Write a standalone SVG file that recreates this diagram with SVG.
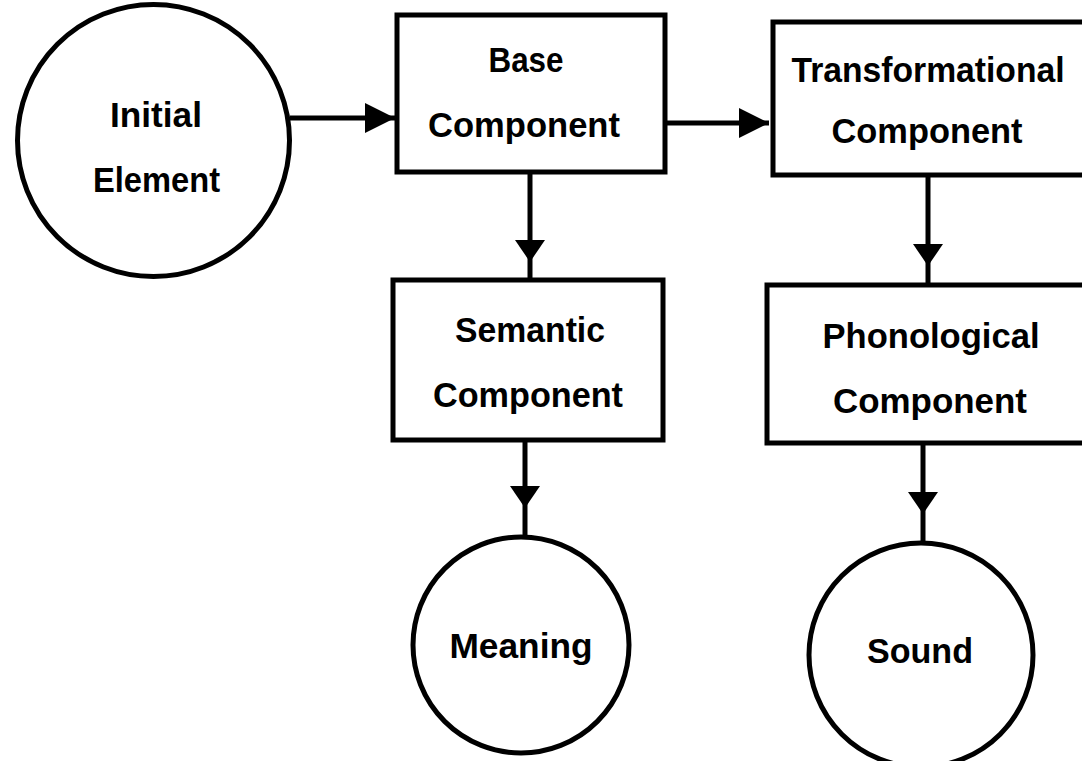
<svg xmlns="http://www.w3.org/2000/svg" width="1082" height="761" viewBox="0 0 1082 761">
<style>
  .shape { fill: #fff; stroke: #000; stroke-width: 5; }
  .conn { fill: none; stroke: #000; stroke-width: 5; }
  .lbl { font-family: "Liberation Sans", Arial, sans-serif; font-weight: bold; font-size: 35px; fill: #000; text-anchor: middle; }
</style>
<defs>
  <marker id="arrow" viewBox="0 0 30 30" refX="30" refY="15" markerWidth="30" markerHeight="30" markerUnits="userSpaceOnUse" orient="auto">
    <path d="M0,0 L30,15 L0,30 Z" fill="#000"/>
  </marker>
  <marker id="arrowv" viewBox="0 0 22 30" refX="22" refY="15" markerWidth="22" markerHeight="30" markerUnits="userSpaceOnUse" orient="auto">
    <path d="M0,0 L22,15 L0,30 Z" fill="#000"/>
  </marker>
</defs>
<rect width="1082" height="761" fill="#fff"/>
<g id="connectors">
  <path class="conn" d="M290,118 L395,118" marker-end="url(#arrow)"/>
  <path class="conn" d="M665,123 L769,123" marker-end="url(#arrow)"/>
  <path class="conn" d="M530,172 L530,262 L530,278" marker-mid="url(#arrowv)"/>
  <path class="conn" d="M928,175 L928,266 L928,285" marker-mid="url(#arrowv)"/>
  <path class="conn" d="M525,440 L525,508 L525,537" marker-mid="url(#arrowv)"/>
  <path class="conn" d="M923,443 L923,514 L923,543" marker-mid="url(#arrowv)"/>
</g>
<g id="initial-element">
  <circle class="shape" cx="153.5" cy="140.5" r="136"/>
  <text class="lbl" x="156" y="127" textLength="92" lengthAdjust="spacingAndGlyphs">Initial</text>
  <text class="lbl" x="156.5" y="192" textLength="127" lengthAdjust="spacingAndGlyphs">Element</text>
</g>
<g id="base-component">
  <rect class="shape" x="397" y="15" width="268" height="157"/>
  <text class="lbl" x="526" y="72" textLength="75" lengthAdjust="spacingAndGlyphs">Base</text>
  <text class="lbl" x="524" y="137" textLength="192" lengthAdjust="spacingAndGlyphs">Component</text>
</g>
<g id="transformational-component">
  <rect class="shape" x="773" y="22" width="330" height="153"/>
  <text class="lbl" x="928" y="82" textLength="273" lengthAdjust="spacingAndGlyphs">Transformational</text>
  <text class="lbl" x="927" y="143" textLength="191" lengthAdjust="spacingAndGlyphs">Component</text>
</g>
<g id="semantic-component">
  <rect class="shape" x="393" y="280" width="270" height="160"/>
  <text class="lbl" x="530" y="342" textLength="150" lengthAdjust="spacingAndGlyphs">Semantic</text>
  <text class="lbl" x="528" y="407" textLength="190" lengthAdjust="spacingAndGlyphs">Component</text>
</g>
<g id="phonological-component">
  <rect class="shape" x="767" y="285" width="340" height="158"/>
  <text class="lbl" x="931" y="348" textLength="217" lengthAdjust="spacingAndGlyphs">Phonological</text>
  <text class="lbl" x="930" y="413" textLength="194" lengthAdjust="spacingAndGlyphs">Component</text>
</g>
<g id="meaning">
  <circle class="shape" cx="521" cy="645" r="108"/>
  <text class="lbl" x="521" y="658" textLength="143" lengthAdjust="spacingAndGlyphs">Meaning</text>
</g>
<g id="sound">
  <circle class="shape" cx="921" cy="655" r="112"/>
  <text class="lbl" x="920" y="663" textLength="106" lengthAdjust="spacingAndGlyphs">Sound</text>
</g>
</svg>
